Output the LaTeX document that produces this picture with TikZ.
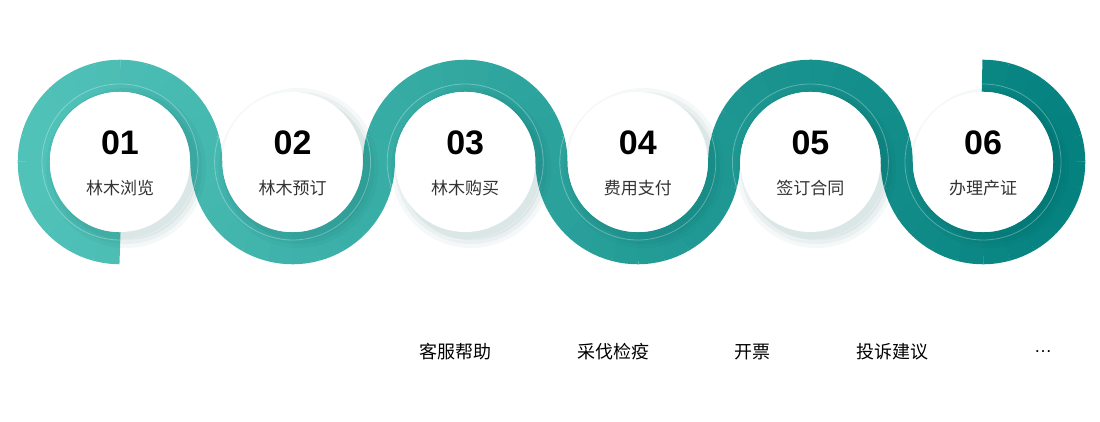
\documentclass[tikz,border=0pt]{standalone}
\usepackage{fontspec}
\setmainfont{Noto Sans CJK SC}
\newfontfamily\numfont{Liberation Sans}
\usetikzlibrary{calc}
\definecolor{ringlight}{HTML}{52C3B9}
\definecolor{ringdark}{HTML}{03807E}
\definecolor{labelgray}{HTML}{333333}
\tikzset{
  stepcircle/.style={circle, fill=white, minimum size=140pt, inner sep=0pt},
  stepnum/.style={font=\numfont\bfseries\fontsize{34}{34}\selectfont, text=black},
  steplabel/.style={font=\fontsize{17}{17}\selectfont, text=labelgray},
  extra/.style={font=\fontsize{18}{18}\selectfont, text=black}
}
\begin{document}
\begin{tikzpicture}[x=1pt,y=1pt]
  \useasboundingbox (0,0) rectangle (1100,422);
  % ring pieces, colour follows x
  \foreach \i/\a/\b in {0/-90/-360, 1/180/360, 2/180/0, 3/180/360, 4/180/0, 5/180/450} {
    \pgfmathsetmacro\cx{120+172.6*\i}
    \pgfmathtruncatemacro\n{abs(\b-\a)/15}
    \foreach \k in {1,...,\n} {
      \pgfmathsetmacro\s{\a+(\b-\a)*(\k-1)/\n}
      \pgfmathsetmacro\e{\a+(\b-\a)*\k/\n+0.6*sign(\b-\a)}
      \pgfmathsetmacro\m{\a+(\b-\a)*(\k-0.5)/\n}
      \pgfmathtruncatemacro\p{max(0,min(100,(\cx+86.3*cos(\m)-18)/10.67))}
      \colorlet{seg}{ringdark!\p!ringlight}
      \draw[seg, line width=32pt] ($(\cx,260)+(\s:86.3)$) arc[start angle=\s, end angle=\e, radius=86.3];
    }
  }
  % soft shadows and faint rings
  \foreach \i in {0,...,5} {
    \pgfmathsetmacro\cx{120+172.6*\i}
    \foreach \r/\o in {80/0.04, 76/0.05, 72/0.06}
      \fill[ringdark!60!black, opacity=\o] (\cx+6,254) circle (\r);
    \draw[white, opacity=0.3, line width=0.8pt] (\cx,260) circle (78);
  }
  % step circles
  \foreach \i/\num/\txt in {0/01/林木浏览, 1/02/林木预订, 2/03/林木购买, 3/04/费用支付, 4/05/签订合同, 5/06/办理产证} {
    \pgfmathsetmacro\cx{120+172.6*\i}
    \node[stepcircle] (s\i) at (\cx,260) {};
    \node[stepnum] (n\i) at ($(s\i.center)+(0,19)$) {\num};
    \node[steplabel] (l\i) at ($(s\i.center)+(0,-26)$) {\txt};
  }
  % other services
  \node[extra] (e1) at (455,70) {客服帮助};
  \node[extra] (e2) at (613,70) {采伐检疫};
  \node[extra] (e3) at (752,70) {开票};
  \node[extra] (e4) at (892,70) {投诉建议};
  \node[extra] (e5) at (1043,70) {\numfont …};
\end{tikzpicture}
\end{document}
